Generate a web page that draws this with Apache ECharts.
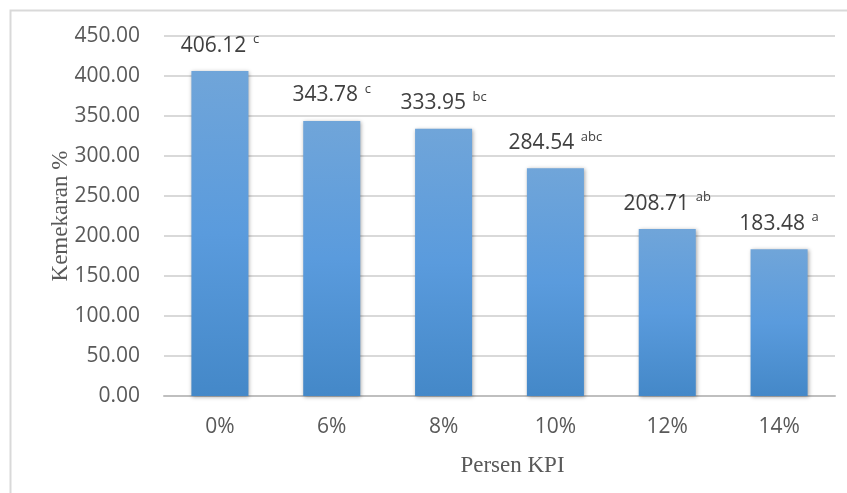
<!DOCTYPE html>
<html>
<head>
<meta charset="utf-8">
<script src="https://cdn.jsdelivr.net/npm/echarts@6/dist/echarts.min.js"></script>
<style>
  html, body { margin: 0; padding: 0; background: #fff; }
  #chart { width: 847px; height: 493px; }
</style>
</head>
<body>
<div id="chart"></div>
<script>
// data
var categories = ['0%', '6%', '8%', '10%', '12%', '14%'];
var values = [406.12, 343.78, 333.95, 284.54, 208.71, 183.48];
var letters = ['c', 'c', 'bc', 'abc', 'ab', 'a'];
var yTicks = [0, 50, 100, 150, 200, 250, 300, 350, 400, 450];

var myChart = echarts.init(document.getElementById('chart'));
var option = {
    backgroundColor: '#fff',
    animation: false,
    graphic: [{
        type: 'rect',
        shape: { x: 10.5, y: 10.5, width: 900, height: 600 },
        style: { fill: 'none', stroke: '#d9d9d9', lineWidth: 2 },
        silent: true
    }],
    grid: { left: 164, right: 12, top: 36, bottom: 97 },
    xAxis: {
        type: 'category',
        data: categories,
        name: 'Persen KPI',
        nameLocation: 'middle',
        nameGap: 58,
        nameTextStyle: {
            fontFamily: 'Liberation Serif',
            fontSize: 23,
            color: '#595959',
            padding: [0, 0, 0, 26]
        },
        axisLine: { lineStyle: { color: '#bfbfbf', width: 2 } },
        axisTick: { show: false },
        axisLabel: {
            margin: 21,
            fontFamily: 'Open Sans',
            fontSize: 21,
            color: '#595959'
        }
    },
    yAxis: {
        type: 'value',
        min: yTicks[0],
        max: yTicks[yTicks.length - 1],
        interval: 50,
        name: 'Kemekaran %',
        nameLocation: 'middle',
        nameGap: 92,
        nameMoveOverlap: false,
        nameTextStyle: {
            fontFamily: 'Liberation Serif',
            fontSize: 23,
            color: '#595959'
        },
        axisLine: { show: false },
        axisTick: { show: false },
        splitLine: { lineStyle: { color: '#d9d9d9', width: 2 } },
        axisLabel: {
            margin: 24,
            fontFamily: 'Open Sans',
            fontSize: 21,
            color: '#595959',
            formatter: function (v) { return v.toFixed(2); }
        }
    },
    series: [{
        type: 'bar',
        data: values,
        barCategoryGap: '49%',
        itemStyle: {
            color: new echarts.graphic.LinearGradient(0, 0, 0, 1, [
                { offset: 0, color: '#70a5d9' },
                { offset: 0.5, color: '#5a9bdd' },
                { offset: 1, color: '#4488c8' }
            ]),
            shadowColor: 'rgba(0,0,0,0.35)',
            shadowBlur: 4,
            shadowOffsetX: 1,
            shadowOffsetY: 1
        },
        label: {
            show: true,
            position: 'top',
            distance: 13,
            formatter: function (p) {
                return '{v|' + p.value.toFixed(2) + '}  {s|' + letters[p.dataIndex] + '}';
            },
            rich: {
                v: { fontFamily: 'Open Sans', fontSize: 21, color: '#404040' },
                s: { fontFamily: 'Open Sans', fontSize: 13, color: '#404040', padding: [0, 0, 12, 0] }
            }
        }
    }]
};
myChart.setOption(option);
window.addEventListener('resize', function () {
    myChart.resize();
});
</script>
</body>
</html>
